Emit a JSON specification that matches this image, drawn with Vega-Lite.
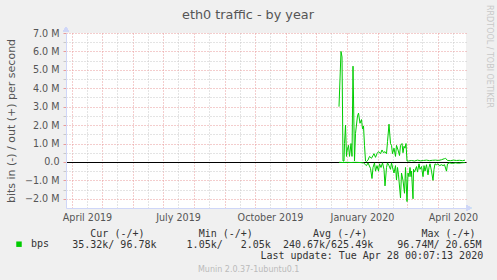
{
"$schema": "https://vega.github.io/schema/vega-lite/v6.json",
"width": 400, "height": 175,
"autosize": "none",
"padding": {"left": 66, "top": 33, "right": 31, "bottom": 72},
"background": "#f0f0f0",
"view": {"fill": "#ffffff", "stroke": null},
"config": {"font": "DejaVu Sans"},
"title": {"text": "eth0 traffic - by year", "font": "DejaVu Sans", "fontSize": 12.8, "fontWeight": "normal", "color": "#555555", "anchor": "middle", "frame": "group", "baseline": "alphabetic", "offset": 14.7, "dx": -18, "dy": 42.5},
"data": {"values": [
{"t":"2019-12-24T00:00:00Z","dir":"out","bps":3000000},
{"t":"2019-12-25T00:00:00Z","dir":"out","bps":4500000},
{"t":"2019-12-26T00:00:00Z","dir":"out","bps":6000000},
{"t":"2019-12-27T00:00:00Z","dir":"out","bps":5700000},
{"t":"2019-12-28T00:00:00Z","dir":"out","bps":50000},
{"t":"2019-12-29T00:00:00Z","dir":"out","bps":50000},
{"t":"2019-12-29T12:00:00Z","dir":"out","bps":1000000},
{"t":"2019-12-30T12:00:00Z","dir":"out","bps":2000000},
{"t":"2019-12-31T12:00:00Z","dir":"out","bps":300000},
{"t":"2020-01-01T00:00:00Z","dir":"out","bps":600000},
{"t":"2020-01-02T12:00:00Z","dir":"out","bps":900000},
{"t":"2020-01-03T12:00:00Z","dir":"out","bps":300000},
{"t":"2020-01-05T00:00:00Z","dir":"out","bps":1000000},
{"t":"2020-01-06T00:00:00Z","dir":"out","bps":300000},
{"t":"2020-01-07T00:00:00Z","dir":"out","bps":5200000},
{"t":"2020-01-08T12:00:00Z","dir":"out","bps":50000},
{"t":"2020-01-09T12:00:00Z","dir":"out","bps":1550000},
{"t":"2020-01-11T12:00:00Z","dir":"out","bps":2500000},
{"t":"2020-01-12T12:00:00Z","dir":"out","bps":2650000},
{"t":"2020-01-14T00:00:00Z","dir":"out","bps":2100000},
{"t":"2020-01-15T12:00:00Z","dir":"out","bps":2300000},
{"t":"2020-01-16T12:00:00Z","dir":"out","bps":1800000},
{"t":"2020-01-17T12:00:00Z","dir":"out","bps":1950000},
{"t":"2020-01-18T12:00:00Z","dir":"out","bps":900000},
{"t":"2020-01-19T12:00:00Z","dir":"out","bps":50000},
{"t":"2020-01-20T12:00:00Z","dir":"out","bps":20000},
{"t":"2020-01-22T00:00:00Z","dir":"out","bps":100000},
{"t":"2020-01-23T12:00:00Z","dir":"out","bps":300000},
{"t":"2020-01-25T12:00:00Z","dir":"out","bps":200000},
{"t":"2020-01-27T00:00:00Z","dir":"out","bps":350000},
{"t":"2020-01-28T00:00:00Z","dir":"out","bps":450000},
{"t":"2020-01-29T12:00:00Z","dir":"out","bps":250000},
{"t":"2020-01-31T00:00:00Z","dir":"out","bps":450000},
{"t":"2020-02-01T12:00:00Z","dir":"out","bps":560000},
{"t":"2020-02-03T12:00:00Z","dir":"out","bps":450000},
{"t":"2020-02-05T00:00:00Z","dir":"out","bps":650000},
{"t":"2020-02-06T12:00:00Z","dir":"out","bps":500000},
{"t":"2020-02-08T00:00:00Z","dir":"out","bps":560000},
{"t":"2020-02-09T12:00:00Z","dir":"out","bps":450000},
{"t":"2020-02-10T12:00:00Z","dir":"out","bps":1100000},
{"t":"2020-02-12T00:00:00Z","dir":"out","bps":2050000},
{"t":"2020-02-13T12:00:00Z","dir":"out","bps":1000000},
{"t":"2020-02-14T12:00:00Z","dir":"out","bps":900000},
{"t":"2020-02-15T12:00:00Z","dir":"out","bps":450000},
{"t":"2020-02-17T00:00:00Z","dir":"out","bps":750000},
{"t":"2020-02-18T12:00:00Z","dir":"out","bps":300000},
{"t":"2020-02-19T12:00:00Z","dir":"out","bps":900000},
{"t":"2020-02-21T00:00:00Z","dir":"out","bps":650000},
{"t":"2020-02-22T12:00:00Z","dir":"out","bps":350000},
{"t":"2020-02-23T12:00:00Z","dir":"out","bps":900000},
{"t":"2020-02-25T00:00:00Z","dir":"out","bps":1000000},
{"t":"2020-02-26T00:00:00Z","dir":"out","bps":500000},
{"t":"2020-02-27T00:00:00Z","dir":"out","bps":850000},
{"t":"2020-02-28T00:00:00Z","dir":"out","bps":750000},
{"t":"2020-02-29T00:00:00Z","dir":"out","bps":1000000},
{"t":"2020-03-01T00:00:00Z","dir":"out","bps":50000},
{"t":"2020-03-02T12:00:00Z","dir":"out","bps":50000},
{"t":"2020-03-05T12:00:00Z","dir":"out","bps":80000},
{"t":"2020-03-08T12:00:00Z","dir":"out","bps":50000},
{"t":"2020-03-11T12:00:00Z","dir":"out","bps":100000},
{"t":"2020-03-14T12:00:00Z","dir":"out","bps":60000},
{"t":"2020-03-17T12:00:00Z","dir":"out","bps":80000},
{"t":"2020-03-20T12:00:00Z","dir":"out","bps":100000},
{"t":"2020-03-23T12:00:00Z","dir":"out","bps":70000},
{"t":"2020-03-26T12:00:00Z","dir":"out","bps":90000},
{"t":"2020-03-29T12:00:00Z","dir":"out","bps":100000},
{"t":"2020-04-01T12:00:00Z","dir":"out","bps":80000},
{"t":"2020-04-04T12:00:00Z","dir":"out","bps":120000},
{"t":"2020-04-07T12:00:00Z","dir":"out","bps":180000},
{"t":"2020-04-08T12:00:00Z","dir":"out","bps":200000},
{"t":"2020-04-10T12:00:00Z","dir":"out","bps":80000},
{"t":"2020-04-13T12:00:00Z","dir":"out","bps":70000},
{"t":"2020-04-16T12:00:00Z","dir":"out","bps":100000},
{"t":"2020-04-19T12:00:00Z","dir":"out","bps":80000},
{"t":"2020-04-22T12:00:00Z","dir":"out","bps":90000},
{"t":"2020-04-25T12:00:00Z","dir":"out","bps":70000},
{"t":"2020-04-28T00:00:00Z","dir":"out","bps":96780},
{"t":"2019-12-24T00:00:00Z","dir":"in","bps":-20000},
{"t":"2019-12-28T00:00:00Z","dir":"in","bps":-30000},
{"t":"2020-01-01T00:00:00Z","dir":"in","bps":-20000},
{"t":"2020-01-05T00:00:00Z","dir":"in","bps":-30000},
{"t":"2020-01-09T00:00:00Z","dir":"in","bps":-20000},
{"t":"2020-01-14T00:00:00Z","dir":"in","bps":-30000},
{"t":"2020-01-17T12:00:00Z","dir":"in","bps":-50000},
{"t":"2020-01-19T12:00:00Z","dir":"in","bps":-150000},
{"t":"2020-01-20T12:00:00Z","dir":"in","bps":-200000},
{"t":"2020-01-22T00:00:00Z","dir":"in","bps":-50000},
{"t":"2020-01-24T12:00:00Z","dir":"in","bps":-350000},
{"t":"2020-01-26T00:00:00Z","dir":"in","bps":-900000},
{"t":"2020-01-27T00:00:00Z","dir":"in","bps":-300000},
{"t":"2020-01-28T12:00:00Z","dir":"in","bps":-50000},
{"t":"2020-01-29T12:00:00Z","dir":"in","bps":-500000},
{"t":"2020-01-31T00:00:00Z","dir":"in","bps":-200000},
{"t":"2020-02-01T12:00:00Z","dir":"in","bps":-500000},
{"t":"2020-02-02T12:00:00Z","dir":"in","bps":-100000},
{"t":"2020-02-04T00:00:00Z","dir":"in","bps":-300000},
{"t":"2020-02-05T12:00:00Z","dir":"in","bps":-50000},
{"t":"2020-02-07T00:00:00Z","dir":"in","bps":-400000},
{"t":"2020-02-08T00:00:00Z","dir":"in","bps":-1300000},
{"t":"2020-02-09T12:00:00Z","dir":"in","bps":-300000},
{"t":"2020-02-10T12:00:00Z","dir":"in","bps":-50000},
{"t":"2020-02-12T00:00:00Z","dir":"in","bps":-200000},
{"t":"2020-02-13T12:00:00Z","dir":"in","bps":-400000},
{"t":"2020-02-14T12:00:00Z","dir":"in","bps":-50000},
{"t":"2020-02-16T00:00:00Z","dir":"in","bps":-400000},
{"t":"2020-02-17T00:00:00Z","dir":"in","bps":-600000},
{"t":"2020-02-18T12:00:00Z","dir":"in","bps":-200000},
{"t":"2020-02-19T12:00:00Z","dir":"in","bps":-980000},
{"t":"2020-02-20T12:00:00Z","dir":"in","bps":-300000},
{"t":"2020-02-21T12:00:00Z","dir":"in","bps":-700000},
{"t":"2020-02-23T12:00:00Z","dir":"in","bps":-1950000},
{"t":"2020-02-24T12:00:00Z","dir":"in","bps":-600000},
{"t":"2020-02-26T00:00:00Z","dir":"in","bps":-1000000},
{"t":"2020-02-27T12:00:00Z","dir":"in","bps":-1700000},
{"t":"2020-02-28T12:00:00Z","dir":"in","bps":-300000},
{"t":"2020-02-29T00:00:00Z","dir":"in","bps":-900000},
{"t":"2020-03-01T00:00:00Z","dir":"in","bps":-2150000},
{"t":"2020-03-02T00:00:00Z","dir":"in","bps":-600000},
{"t":"2020-03-03T00:00:00Z","dir":"in","bps":-800000},
{"t":"2020-03-04T00:00:00Z","dir":"in","bps":-300000},
{"t":"2020-03-05T00:00:00Z","dir":"in","bps":-800000},
{"t":"2020-03-05T12:00:00Z","dir":"in","bps":-500000},
{"t":"2020-03-07T00:00:00Z","dir":"in","bps":-2000000},
{"t":"2020-03-07T12:00:00Z","dir":"in","bps":-400000},
{"t":"2020-03-08T12:00:00Z","dir":"in","bps":-550000},
{"t":"2020-03-10T12:00:00Z","dir":"in","bps":-250000},
{"t":"2020-03-11T12:00:00Z","dir":"in","bps":-550000},
{"t":"2020-03-13T00:00:00Z","dir":"in","bps":-100000},
{"t":"2020-03-14T00:00:00Z","dir":"in","bps":-400000},
{"t":"2020-03-15T12:00:00Z","dir":"in","bps":-250000},
{"t":"2020-03-17T00:00:00Z","dir":"in","bps":-800000},
{"t":"2020-03-18T00:00:00Z","dir":"in","bps":-200000},
{"t":"2020-03-19T00:00:00Z","dir":"in","bps":-500000},
{"t":"2020-03-20T12:00:00Z","dir":"in","bps":-150000},
{"t":"2020-03-22T00:00:00Z","dir":"in","bps":-700000},
{"t":"2020-03-23T00:00:00Z","dir":"in","bps":-300000},
{"t":"2020-03-24T00:00:00Z","dir":"in","bps":-100000},
{"t":"2020-03-25T12:00:00Z","dir":"in","bps":-500000},
{"t":"2020-03-27T00:00:00Z","dir":"in","bps":-1000000},
{"t":"2020-03-28T00:00:00Z","dir":"in","bps":-400000},
{"t":"2020-03-29T00:00:00Z","dir":"in","bps":-100000},
{"t":"2020-03-30T12:00:00Z","dir":"in","bps":-150000},
{"t":"2020-04-01T00:00:00Z","dir":"in","bps":-100000},
{"t":"2020-04-02T12:00:00Z","dir":"in","bps":-200000},
{"t":"2020-04-04T12:00:00Z","dir":"in","bps":-150000},
{"t":"2020-04-06T00:00:00Z","dir":"in","bps":-200000},
{"t":"2020-04-07T12:00:00Z","dir":"in","bps":-150000},
{"t":"2020-04-09T12:00:00Z","dir":"in","bps":-500000},
{"t":"2020-04-10T12:00:00Z","dir":"in","bps":-100000},
{"t":"2020-04-12T12:00:00Z","dir":"in","bps":-50000},
{"t":"2020-04-15T12:00:00Z","dir":"in","bps":-80000},
{"t":"2020-04-18T12:00:00Z","dir":"in","bps":-50000},
{"t":"2020-04-21T12:00:00Z","dir":"in","bps":-70000},
{"t":"2020-04-24T12:00:00Z","dir":"in","bps":-50000},
{"t":"2020-04-28T00:00:00Z","dir":"in","bps":-35320}
]},
"layer": [
{
"transform": [{"filter": "datum.dir == 'out'"}],
"mark": {"type": "line", "strokeWidth": 1},
"encoding": {
"x": {"field": "t", "type": "temporal",
 "scale": {"type": "utc", "domain": [{"year": 2019, "month": 3, "date": 26, "utc": true}, {"year": 2020, "month": 4, "date": 29, "utc": true}]},
 "axis": {"orient": "bottom", "values": [{"year": 2019, "month": 4, "date": 16, "utc": true}, {"year": 2019, "month": 5, "date": 16, "utc": true}, {"year": 2019, "month": 6, "date": 16, "utc": true}, {"year": 2019, "month": 7, "date": 16, "utc": true}, {"year": 2019, "month": 8, "date": 16, "utc": true}, {"year": 2019, "month": 9, "date": 16, "utc": true}, {"year": 2019, "month": 10, "date": 16, "utc": true}, {"year": 2019, "month": 11, "date": 16, "utc": true}, {"year": 2019, "month": 12, "date": 16, "utc": true}, {"year": 2020, "month": 1, "date": 16, "utc": true}, {"year": 2020, "month": 2, "date": 16, "utc": true}, {"year": 2020, "month": 3, "date": 16, "utc": true}, {"year": 2020, "month": 4, "date": 16, "utc": true}],
  "grid": true, "gridColor": "#c8c8c8", "gridDash": [1, 2], "gridWidth": 1, "labels": false, "ticks": false, "domain": false,
  "title": "Munin 2.0.37-1ubuntu0.1", "titleFont": "DejaVu Sans", "titleFontSize": 8, "titleFontWeight": "normal", "titleColor": "#bbbbbb", "titleX": 182.2, "titleY": 63.7, "titleAlign": "center", "titleBaseline": "alphabetic"}},
"y": {"field": "bps", "type": "quantitative",
 "scale": {"domain": [-2500000, 7000000], "nice": false, "zero": false},
 "axis": {"orient": "left", "values": [-1500000, -500000, 500000, 1500000, 2500000, 3500000, 4500000, 5500000, 6500000], "grid": true, "gridColor": "#c8c8c8", "gridDash": [1, 2], "labels": false, "ticks": true, "tickColor": "#c8c8c8", "tickSize": 3, "domain": false,
  "title": "bits in (-) / out (+) per second", "titleFont": "DejaVu Sans", "titleFontSize": 11, "titleFontWeight": "normal", "titleColor": "#555555", "titleX": -55, "titleY": 87.5, "titleAngle": 270, "titleAlign": "center", "titleBaseline": "middle"}},
"color": {"datum": "bps", "scale": {"range": ["#00cc00"]},
 "legend": {"orient": "none", "legendX": -52, "legendY": 206.2, "title": null, "padding": 0, "symbolType": "square", "symbolSize": 30, "symbolStrokeWidth": 0, "labelFont": "DejaVu Sans Mono", "labelFontSize": 10, "labelColor": "#333333", "labelOffset": 7,
  "encode": {"symbols": {"update": {"fill": {"value": "#00cc00"}, "stroke": {"value": "#00cc00"}, "strokeWidth": {"value": 0}}}}}}
}
},
{
"transform": [{"filter": "datum.dir == 'in'"}],
"mark": {"type": "line", "strokeWidth": 1},
"encoding": {
"x": {"field": "t", "type": "temporal",
 "scale": {"type": "utc", "domain": [{"year": 2019, "month": 3, "date": 26, "utc": true}, {"year": 2020, "month": 4, "date": 29, "utc": true}]},
 "axis": {"orient": "bottom", "tickCount": {"interval": "month", "step": 1}, "grid": true, "gridColor": "#e89a9a", "gridDash": [1, 2], "gridWidth": 1, "labels": false, "ticks": false, "domain": false,
  "title": "35.32k/\u00a096.78k\u00a0\u00a0\u00a0\u00a0\u00a01.05k/\u00a0\u00a0\u00a02.05k\u00a0\u00a0240.67k/625.49k\u00a0\u00a0\u00a0\u00a096.74M/\u00a020.65M",
  "titleFont": "DejaVu Sans Mono", "titleFontSize": 10, "titleFontWeight": "normal", "titleColor": "#333333", "titleX": 5.7, "titleY": 39.6, "titleAlign": "left", "titleBaseline": "alphabetic"}},
"y": {"field": "bps", "type": "quantitative",
 "scale": {"domain": [-2500000, 7000000], "nice": false, "zero": false},
 "axis": {"orient": "left", "values": [-2000000, -1000000, 0, 1000000, 2000000, 3000000, 4000000, 5000000, 6000000, 7000000], "grid": true, "gridColor": "#e89a9a", "gridDash": [1, 2], "ticks": true, "tickColor": "#e89a9a", "tickSize": 3, "domain": true, "domainColor": "#cfd6f8",
  "labelExpr": "datum.value == 0 ? '0.0' : format(datum.value / 1000000, '.1f') + ' M'", "labelFont": "DejaVu Sans", "labelFontSize": 9.6, "labelColor": "#555555", "labelPadding": 4, "title": null}},
"color": {"datum": "bps"}
}
},
{
"mark": {"type": "point", "shape": "triangle-up", "filled": true, "color": "#cfd6f8", "opacity": 1, "size": 30, "yOffset": -4},
"encoding": {
"x": {"datum": {"year": 2019, "month": 3, "date": 26, "utc": true}, "type": "temporal",
 "axis": {"orient": "bottom", "values": [{"year": 2019, "month": 4, "date": 16, "utc": true}, {"year": 2019, "month": 7, "date": 16, "utc": true}, {"year": 2019, "month": 10, "date": 16, "utc": true}, {"year": 2020, "month": 1, "date": 16, "utc": true}, {"year": 2020, "month": 4, "date": 16, "utc": true}],
  "format": "%B %Y", "grid": false, "ticks": false, "tickSize": 0, "labelPadding": 4, "labelFont": "DejaVu Sans", "labelFontSize": 9.6, "labelColor": "#555555", "labelFlush": false, "labelOverlap": false, "domain": true, "domainColor": "#cfd6f8",
  "title": "Cur\u00a0(-/+)\u00a0\u00a0\u00a0\u00a0\u00a0\u00a0\u00a0\u00a0\u00a0Min\u00a0(-/+)\u00a0\u00a0\u00a0\u00a0\u00a0\u00a0\u00a0\u00a0\u00a0\u00a0Avg\u00a0(-/+)\u00a0\u00a0\u00a0\u00a0\u00a0\u00a0\u00a0\u00a0\u00a0Max\u00a0(-/+)",
  "titleFont": "DejaVu Sans Mono", "titleFontSize": 10, "titleFontWeight": "normal", "titleColor": "#333333", "titleX": 23.8, "titleY": 28.3, "titleAlign": "left", "titleBaseline": "alphabetic"}},
"y": {"datum": 7000000, "type": "quantitative",
 "axis": {"orient": "left", "values": [0], "grid": true, "gridColor": "#000000", "gridWidth": 1, "labels": false, "ticks": false, "domain": false, "title": null}}
}
},
{
"mark": {"type": "point", "shape": "triangle-right", "filled": true, "color": "#cfd6f8", "opacity": 1, "size": 30, "xOffset": 3},
"encoding": {
"x": {"datum": {"year": 2020, "month": 4, "date": 29, "utc": true}, "type": "temporal",
 "axis": {"orient": "bottom", "grid": false, "labels": false, "ticks": false, "domain": false,
  "title": "Last\u00a0update:\u00a0Tue\u00a0Apr\u00a028\u00a000:07:13\u00a02020",
  "titleFont": "DejaVu Sans Mono", "titleFontSize": 10, "titleFontWeight": "normal", "titleColor": "#333333", "titleX": 416.7, "titleY": 50.9, "titleAlign": "right", "titleBaseline": "alphabetic"}},
"y": {"datum": -2500000, "type": "quantitative",
 "axis": {"orient": "right", "grid": false, "labels": false, "ticks": false, "domain": false,
  "title": "RRDTOOL / TOBI OETIKER", "titleFont": "DejaVu Sans", "titleFontSize": 8, "titleFontWeight": "normal", "titleColor": "#c8c8c8", "titleX": 22, "titleY": 23, "titleAngle": 90, "titleAlign": "center", "titleBaseline": "middle"}}
}
}
],
"resolve": {"axis": {"x": "independent", "y": "independent"}}
}
